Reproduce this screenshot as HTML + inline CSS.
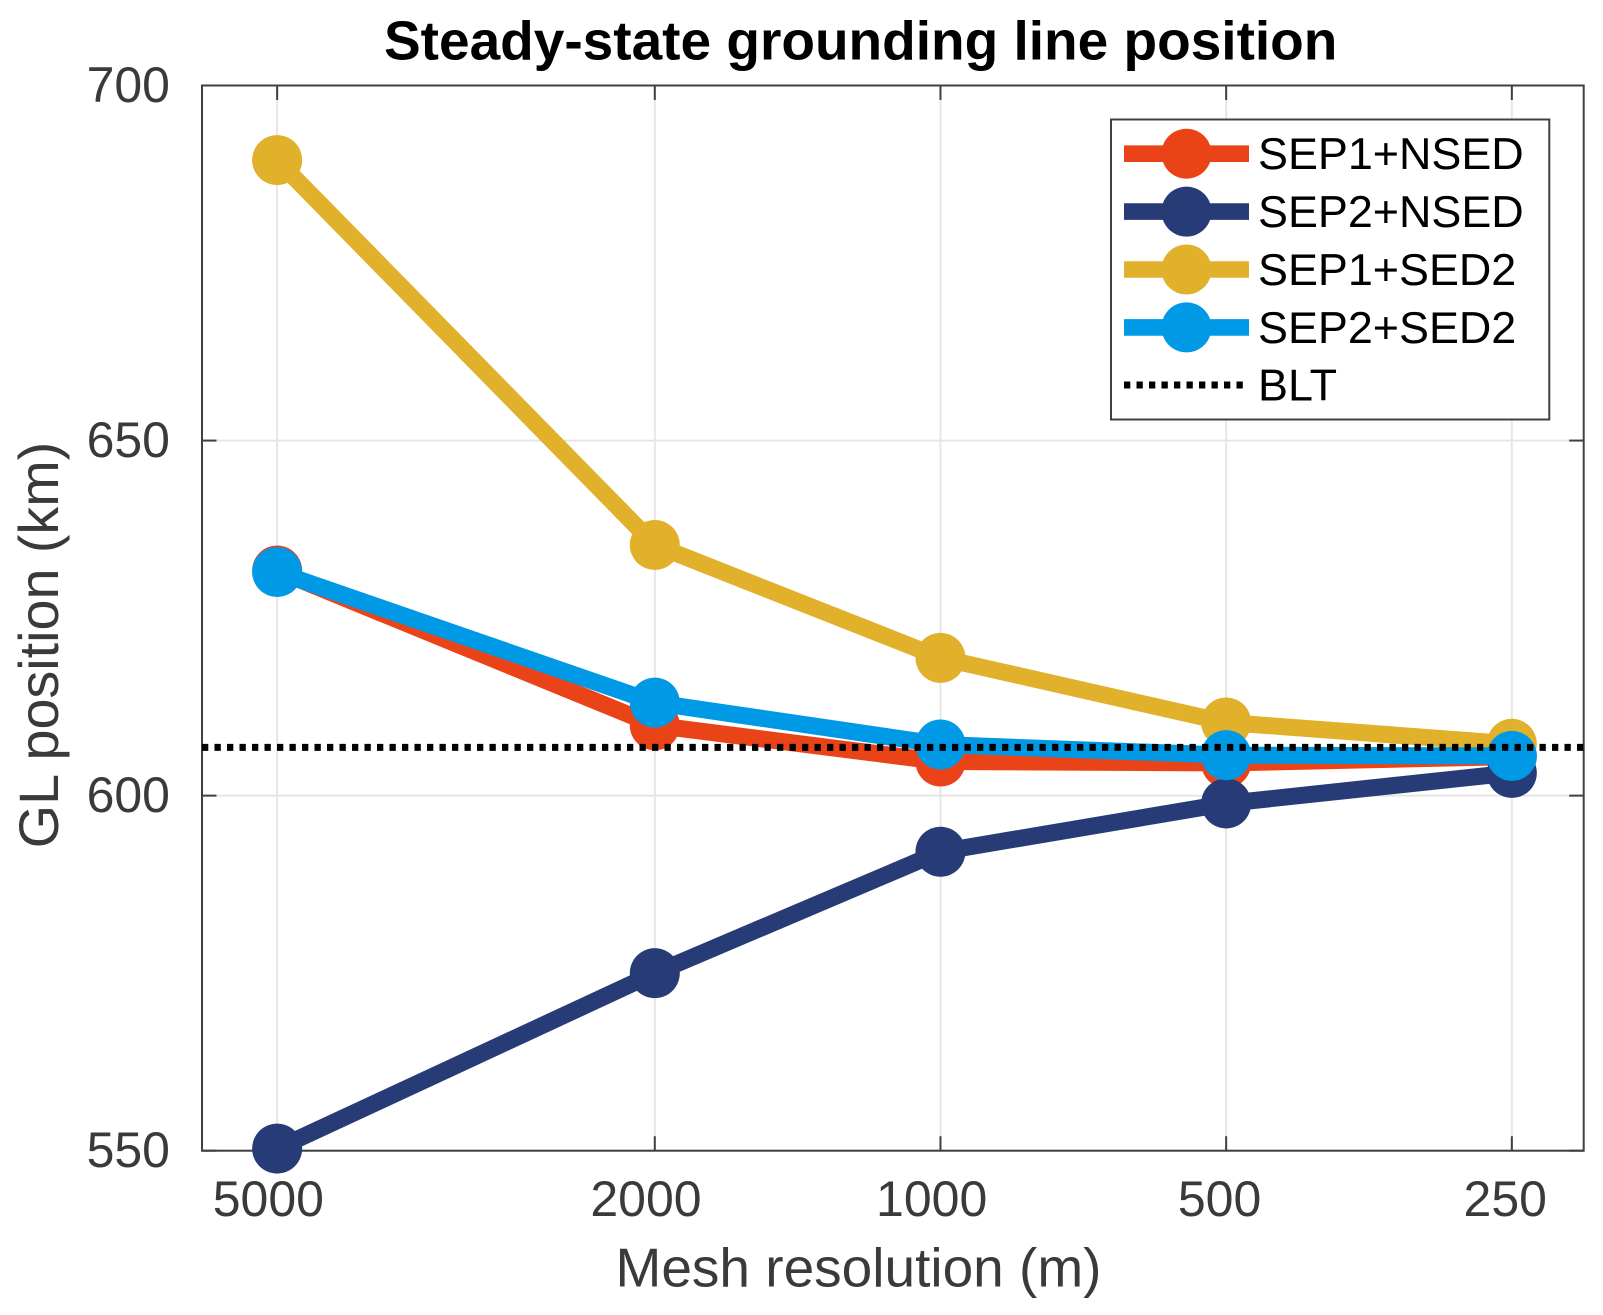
<!DOCTYPE html>
<html lang="en">
<head>
<meta charset="utf-8">
<title>Steady-state grounding line position</title>
<style>
  html, body { margin: 0; padding: 0; background: #fff; }
  body { width: 1603px; height: 1315px; overflow: hidden; }
  svg { display: block; font-family: "Liberation Sans", Arial, sans-serif; }
</style>
</head>
<body>
<svg id="chart" width="1603" height="1315" viewBox="0 0 1603 1315" xmlns="http://www.w3.org/2000/svg"></svg>
<script>
const categories = [5000, 2000, 1000, 500, 250];
const yTicks = [550, 600, 650, 700];
const xDomain = [6000, 210];
const yDomain = [550, 700];
const sep1Nsed = [631.7, 609.9, 604.8, 604.6, 605.5];
const sep2Nsed = [550.3, 575.0, 592.1, 598.9, 603.2];
const sep1Sed2 = [689.5, 635.3, 619.4, 610.3, 607.3];
const sep2Sed2 = [631.5, 613.1, 607.2, 605.7, 605.6];
const bltValue = 606.8;
const seriesNames = ['SEP1+NSED', 'SEP2+NSED', 'SEP1+SED2', 'SEP2+SED2'];
const seriesColors = ['#ea4318', '#273c76', '#e1b12c', '#0099e6'];
const seriesValues = [sep1Nsed, sep2Nsed, sep1Sed2, sep2Sed2];

const NS = 'http://www.w3.org/2000/svg';
const svg = document.getElementById('chart');
const plot = { left: 202, right: 1583.7, top: 85.5, bottom: 1150.7 };
const axisColor = '#404040';
const textColor = '#3a3a3a';
const gridColor = '#e6e6e6';

function xScale(v) {
  const t = Math.log(xDomain[0] / v) / Math.log(xDomain[0] / xDomain[1]);
  return plot.left + t * (plot.right - plot.left);
}
function yScale(v) {
  const t = (v - yDomain[0]) / (yDomain[1] - yDomain[0]);
  return plot.bottom - t * (plot.bottom - plot.top);
}
function make(tag, attrs, parent, text) {
  const el = document.createElementNS(NS, tag);
  for (const k in attrs) el.setAttribute(k, attrs[k]);
  if (text !== undefined) el.textContent = text;
  (parent || svg).appendChild(el);
  return el;
}

/* background */
const bg = make('rect', { x: plot.left, y: plot.top, width: plot.right - plot.left, height: plot.bottom - plot.top, fill: '#fff' });



/* grid */
const grid = make('g', { stroke: gridColor, 'stroke-width': 2 });


categories.forEach(function (c) {
  const g = make('line', { x1: xScale(c), x2: xScale(c), y1: plot.top, y2: plot.bottom }, grid);
  
  
});
yTicks.forEach(function (t) {
  const g = make('line', { x1: plot.left, x2: plot.right, y1: yScale(t), y2: yScale(t) }, grid);
  
  
});

/* ticks */
const ticks = make('g', { stroke: axisColor, 'stroke-width': 2 });


categories.forEach(function (c) {
  const x = xScale(c);
  const t1 = make('line', { x1: x, x2: x, y1: plot.bottom, y2: plot.bottom - 14.5 }, ticks);
  
  
  const t2 = make('line', { x1: x, x2: x, y1: plot.top, y2: plot.top + 14.5 }, ticks);
  
  
});
yTicks.forEach(function (v) {
  const y = yScale(v);
  const t1 = make('line', { x1: plot.left, x2: plot.left + 14.5, y1: y, y2: y }, ticks);
  
  
  const t2 = make('line', { x1: plot.right, x2: plot.right - 14.5, y1: y, y2: y }, ticks);
  
  
});

/* frame */
const frame = make('rect', { x: plot.left, y: plot.top, width: plot.right - plot.left, height: plot.bottom - plot.top, fill: 'none', stroke: axisColor, 'stroke-width': 2 });



/* tick labels */
categories.forEach(function (c) {
  const s = String(c);
  const lbl = make('text', { x: xScale(c) - s.length * 2.2, y: 1216, 'text-anchor': 'middle', 'font-size': 50, fill: textColor }, svg, s);
  
  
});
yTicks.forEach(function (v) {
  const lbl = make('text', { x: 170, y: yScale(v) + 16.5, 'text-anchor': 'end', 'font-size': 50, fill: textColor }, svg, String(v));
  
  
});

/* series */
seriesValues.forEach(function (vals, i) {
  const grp = make('g', {});
  
  
  const pts = vals.map(function (v, j) { return xScale(categories[j]) + ',' + yScale(v); }).join(' ');
  const line = make('polyline', { points: pts, fill: 'none', stroke: seriesColors[i], 'stroke-width': 17, 'stroke-linejoin': 'round' }, grp);
  
  
  vals.forEach(function (v, j) {
    const pt = make('circle', { cx: xScale(categories[j]), cy: yScale(v), r: 25, fill: seriesColors[i] }, grp);
    
    
  });
});

/* BLT reference line */
const blt = make('line', { x1: plot.left, x2: plot.right, y1: yScale(bltValue), y2: yScale(bltValue), stroke: '#000', 'stroke-width': 7, 'stroke-dasharray': '6.3 6.2' });



/* titles */
const title = make('text', { x: 384, y: 59.5, 'font-size': 55, 'font-weight': 'bold', fill: '#000' }, svg, 'Steady-state grounding line position');


const xTitle = make('text', { x: 858.5, y: 1286.5, 'text-anchor': 'middle', 'font-size': 55, fill: textColor }, svg, 'Mesh resolution (m)');


const yTitle = make('text', { x: 0, y: 0, 'text-anchor': 'middle', 'font-size': 55.7, fill: textColor, transform: 'translate(58 645) rotate(-90)' }, svg, 'GL position (km)');



/* legend */
const legend = make('g', {});


const legendBox = make('rect', { x: 1111, y: 119.5, width: 438.3, height: 300, fill: '#fff', stroke: axisColor, 'stroke-width': 2 }, legend);


seriesNames.forEach(function (name, i) {
  const y = 153.7 + i * 57.9;
  const row = make('g', {}, legend);
  
  
  const ln = make('line', { x1: 1124, x2: 1249, y1: y, y2: y, stroke: seriesColors[i], 'stroke-width': 16.6 }, row);
  
  
  const mk = make('circle', { cx: 1186.5, cy: y, r: 25, fill: seriesColors[i] }, row);
  
  
  const tx = make('text', { x: 1258, y: y + 15.5, 'font-size': 44.9, fill: '#000' }, row, name);
  
  
});
const bltRow = make('g', {}, legend);


const bltSample = make('line', { x1: 1124, x2: 1249, y1: 385, y2: 385, stroke: '#000', 'stroke-width': 7, 'stroke-dasharray': '6.3 6.2' }, bltRow);


const bltLabel = make('text', { x: 1258, y: 400.7, 'font-size': 44.9, fill: '#000' }, bltRow, 'BLT');


</script>
</body>
</html>
